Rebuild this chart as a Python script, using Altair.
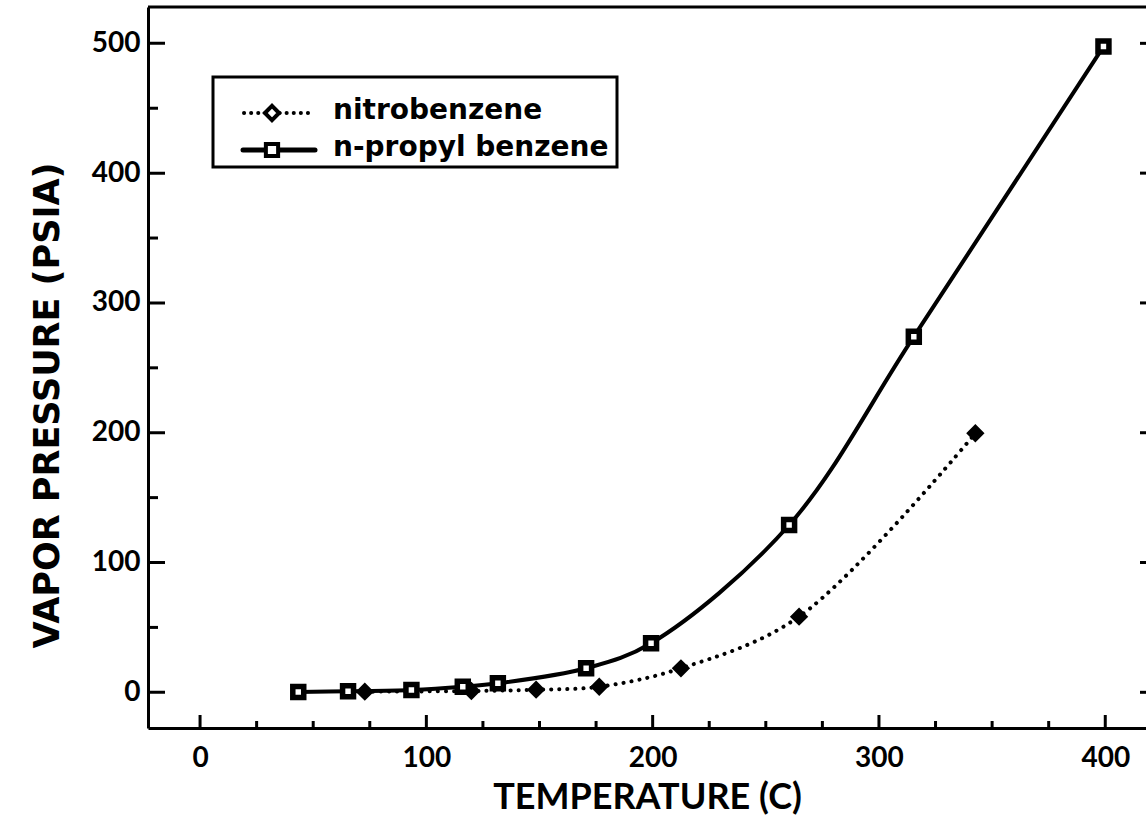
import altair as alt
import pandas as pd

# Vapor pressure readings (temperature in C, pressure in psia)
TEMP_PROPYL = [43.4, 65.4, 93.4, 116.1, 131.6, 170.6, 199.3, 260.3, 315.4, 399.2]
VP_PROPYL = [0.3, 0.8, 1.8, 4.3, 6.9, 18.5, 37.8, 128.9, 274.0, 497.5]

TEMP_NITRO = [72.8, 119.9, 148.5, 176.4, 212.5, 264.7, 342.6]
VP_NITRO = [0.5, 1.0, 2.0, 4.3, 18.5, 58.3, 199.6]

SERIES = ["nitrobenzene", "n-propyl benzene"]

X_DOMAIN = [-23, 418]
Y_DOMAIN = [-27.5, 528]
X_MAJOR = [0, 100, 200, 300, 400]
X_MINOR = [25, 50, 75, 125, 150, 175, 225, 250, 275, 325, 350, 375]
Y_MAJOR = [0, 100, 200, 300, 400, 500]
Y_MINOR = [50, 150, 250, 350, 450]

W, H = 998, 721
FONT = "Lato"

propyl = pd.DataFrame({"t": TEMP_PROPYL, "p": VP_PROPYL})
nitro = pd.DataFrame({"t": TEMP_NITRO, "p": VP_NITRO})

X_ENC = alt.X(
    "t:Q",
    title="TEMPERATURE (C)",
    scale=alt.Scale(domain=X_DOMAIN, nice=False, zero=False),
    axis=alt.Axis(values=X_MAJOR, format="d"),
)
Y_ENC = alt.Y(
    "p:Q",
    title="VAPOR PRESSURE (PSIA)",
    scale=alt.Scale(domain=Y_DOMAIN, nice=False, zero=False),
    axis=alt.Axis(values=Y_MAJOR, format="d", titleY=398,
                  titleFont="DejaVu Sans", titleFontSize=35),
)

propyl_line = alt.Chart(propyl).mark_line(
    color="black", strokeWidth=4, interpolate="catmull-rom"
).encode(x=X_ENC, y=Y_ENC)

nitro_line = alt.Chart(nitro).mark_line(
    color="black", strokeWidth=4, interpolate="catmull-rom",
    strokeDash=[0.1, 8], strokeCap="round"
).encode(x=X_ENC, y=Y_ENC)

propyl_pts = alt.Chart(propyl).mark_point(
    shape="square", size=120, filled=False, stroke="black",
    fill="white", fillOpacity=1, strokeWidth=5.5, opacity=1
).encode(x=X_ENC, y=Y_ENC)

nitro_pts = alt.Chart(nitro).mark_point(
    shape="diamond", size=240, filled=True, color="black", opacity=1,
    stroke="black", strokeWidth=2
).encode(x=X_ENC, y=Y_ENC)


# Inward tick marks along the frame (half of each tick is clipped away)
def tick_layer(df, orient, size):
    return alt.Chart(df).mark_tick(
        orient=orient, size=size, thickness=3, color="black", clip=True, opacity=1
    ).encode(x=X_ENC, y=Y_ENC)


x_major_ticks = tick_layer(
    pd.DataFrame({"t": X_MAJOR, "p": [Y_DOMAIN[0]] * len(X_MAJOR)}), "vertical", 26)
x_minor_ticks = tick_layer(
    pd.DataFrame({"t": X_MINOR, "p": [Y_DOMAIN[0]] * len(X_MINOR)}), "vertical", 14)
y_major_ticks = tick_layer(
    pd.DataFrame({"t": [X_DOMAIN[0]] * len(Y_MAJOR), "p": Y_MAJOR}), "horizontal", 34)
y_minor_ticks = tick_layer(
    pd.DataFrame({"t": [X_DOMAIN[0]] * len(Y_MINOR), "p": Y_MINOR}), "horizontal", 20)
right_ticks = tick_layer(
    pd.DataFrame({"t": [X_DOMAIN[1]] * len(Y_MAJOR), "p": Y_MAJOR}), "horizontal", 12)

top_frame = alt.Chart(pd.DataFrame({"p": [Y_DOMAIN[1]]})).mark_rule(
    color="black", strokeWidth=3
).encode(y=Y_ENC)

# Boxed key in the upper left corner
one = pd.DataFrame({"k": [0]})
key_box = alt.Chart(one).mark_rect(
    fill="white", stroke="black", strokeWidth=3
).encode(x=alt.value(65), x2=alt.value(469), y=alt.value(70), y2=alt.value(160))

key_layers = [key_box]
KEY_ROWS = [
    # label, row y, line x-range, dashed, shape, symbol size
    (SERIES[0], 106, (96, 162), True, "diamond", 200),
    (SERIES[1], 143, (95, 167), False, "square", 150),
]
for label, ky, (kx0, kx1), dashed, shape, ksize in KEY_ROWS:
    rule_kwargs = dict(color="black", strokeCap="round")
    if dashed:
        rule_kwargs.update(strokeWidth=4, strokeDash=[0.1, 7])
    else:
        rule_kwargs.update(strokeWidth=5)
    key_layers.append(
        alt.Chart(one).mark_rule(**rule_kwargs).encode(
            x=alt.value(kx0), x2=alt.value(kx1), y=alt.value(ky))
    )
    key_layers.append(
        alt.Chart(one).mark_point(
            shape=shape, size=ksize, filled=False, fill="white", fillOpacity=1,
            stroke="black", strokeWidth=4, opacity=1
        ).encode(x=alt.value(124), y=alt.value(ky))
    )
    key_layers.append(
        alt.Chart(one).mark_text(
            text=label, align="left", baseline="middle", font="DejaVu Sans",
            fontWeight="bold", fontSize=28, color="black"
        ).encode(x=alt.value(185), y=alt.value(ky - 2))
    )

chart = alt.layer(
    nitro_line, propyl_line, nitro_pts, propyl_pts,
    x_major_ticks, x_minor_ticks, y_major_ticks, y_minor_ticks, right_ticks,
    top_frame, *key_layers,
).properties(
    width=W, height=H,
    autosize=alt.AutoSizeParams(type="none"),
    padding={"left": 148, "top": 7, "right": 0, "bottom": 98},
    background="white",
).configure_view(
    strokeWidth=0
).configure_axis(
    grid=False,
    ticks=False,
    domain=True,
    domainColor="black",
    domainWidth=3,
    labelFont=FONT,
    labelFontWeight="bold",
    labelFontSize=28,
    labelColor="black",
    titleFont=FONT,
    titleFontWeight="bold",
    titleFontSize=36,
    titleColor="black",
).configure_axisX(
    labelPadding=16,
    titlePadding=8,
).configure_axisY(
    labelPadding=8,
    titlePadding=26,
)

chart.save("out.html", embed_options={"renderer": "svg", "actions": False})
